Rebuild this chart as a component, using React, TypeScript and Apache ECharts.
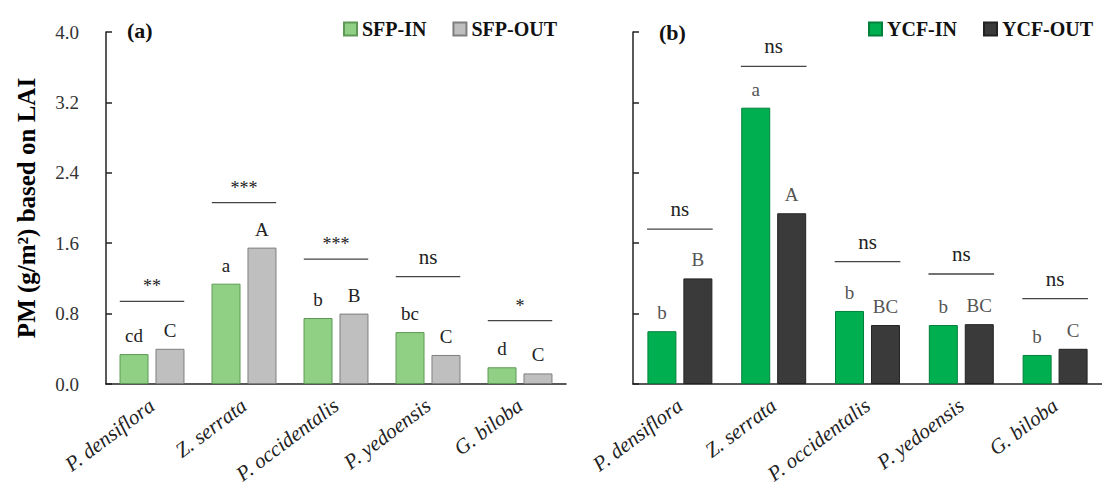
import React, { useEffect, useRef } from 'react';
import * as echarts from 'echarts';

const categories = ['P. densiflora', 'Z. serrata', 'P. occidentalis', 'P. yedoensis', 'G. biloba'];

const sfpIn = [0.34, 1.14, 0.75, 0.59, 0.19];
const sfpOut = [0.4, 1.55, 0.8, 0.33, 0.12];
const ycfIn = [0.6, 3.14, 0.83, 0.67, 0.33];
const ycfOut = [1.2, 1.94, 0.67, 0.68, 0.4];

const sfpInLetters = ['cd', 'a', 'b', 'bc', 'd'];
const sfpOutLetters = ['C', 'A', 'B', 'C', 'C'];
const ycfInLetters = ['b', 'a', 'b', 'b', 'b'];
const ycfOutLetters = ['B', 'A', 'BC', 'BC', 'C'];

const sfpSig = ['**', '***', '***', 'ns', '*'];
const sfpSigLevel = [0.94, 2.06, 1.42, 1.22, 0.72];
const ycfSig = ['ns', 'ns', 'ns', 'ns', 'ns'];
const ycfSigLevel = [1.76, 3.61, 1.39, 1.25, 0.97];

const FONT = "'Liberation Serif', 'Times New Roman', serif";

const sigSeries = (labels: string[], levels: number[], idx: number) => ({
  type: 'custom',
  xAxisIndex: idx,
  yAxisIndex: idx,
  silent: true,
  z: 10,
  data: levels.map((v, i) => [i, v]),
  renderItem: (params: any, api: any) => {
    const c = api.coord([api.value(0), api.value(1)]);
    const w = api.size([1, 0])[0] * 0.7;
    const txt = labels[params.dataIndex];
    const star = txt.indexOf('*') >= 0;
    return {
      type: 'group',
      children: [
        {
          type: 'line',
          shape: { x1: c[0] - w / 2, y1: c[1], x2: c[0] + w / 2, y2: c[1] },
          style: { stroke: '#444', lineWidth: 1.3 },
        },
        {
          type: 'text',
          x: c[0],
          y: c[1] - (star ? 15 : 20),
          style: {
            text: txt,
            align: 'center',
            verticalAlign: 'middle',
            fontFamily: FONT,
            fontSize: star ? 18 : 21,
            fill: '#222',
          },
        },
      ],
    };
  },
});

const barSeries = (
  name: string,
  data: number[],
  letters: string[],
  idx: number,
  fill: string,
  border: string,
  labelColor: string
) => ({
  type: 'bar',
  name,
  xAxisIndex: idx,
  yAxisIndex: idx,
  data,
  barWidth: 29,
  barGap: '24%',
  itemStyle: { color: fill, borderColor: border, borderWidth: 1 },
  label: {
    show: true,
    position: 'top',
    distance: 9,
    formatter: (p: any) => letters[p.dataIndex],
    fontFamily: FONT,
    fontSize: 19,
    color: labelColor,
  },
});

const xAxisCommon = (gi: number) => ({
  type: 'category',
  gridIndex: gi,
  data: categories,
  axisLine: { lineStyle: { color: '#222', width: 1.5 } },
  axisTick: { inside: true, length: 6, lineStyle: { color: '#222', width: 1.5 } },
  axisLabel: {
    rotate: 37,
    margin: 19,
    fontFamily: FONT,
    fontStyle: 'italic',
    fontSize: 21,
    color: '#222',
  },
});

const yAxisCommon = (gi: number, showLabels: boolean) => ({
  type: 'value',
  gridIndex: gi,
  min: 0,
  max: 4,
  interval: 0.8,
  axisLine: { show: true, lineStyle: { color: '#222', width: 1.5 } },
  axisTick: { show: true, inside: true, length: 6, lineStyle: { color: '#222', width: 1.5 } },
  splitLine: { show: false },
  axisLabel: {
    show: showLabels,
    margin: 27,
    fontFamily: FONT,
    fontSize: 19,
    color: '#333',
    formatter: (v: number) => v.toFixed(1),
  },
});

export default function App() {
  const ref = useRef<HTMLDivElement>(null);
  useEffect(() => {
    document.body.style.margin = '0';
    const chart = echarts.init(ref.current!, null, { renderer: 'svg' });
    chart.setOption({
      animation: false,
      backgroundColor: '#fff',
      grid: [
        { left: 106, top: 32, width: 460, height: 352 },
        { left: 633, top: 32, width: 469, height: 352 },
      ],
      xAxis: [xAxisCommon(0), xAxisCommon(1)],
      yAxis: [
        {
          ...yAxisCommon(0, true),
          name: 'PM (g/m²) based on LAI',
          nameLocation: 'middle',
          nameGap: 67,
          nameTextStyle: { fontFamily: FONT, fontSize: 25, fontWeight: 'bold', color: '#000' },
        },
        yAxisCommon(1, false),
      ],
      legend: [
        {
          left: 338,
          top: 14,
          itemWidth: 13,
          itemHeight: 13,
          itemGap: 26,
          icon: 'rect',
          data: ['SFP-IN', 'SFP-OUT'],
          textStyle: { fontFamily: FONT, fontSize: 20, fontWeight: 'bold', color: '#111' },
        },
        {
          left: 863,
          top: 14,
          itemWidth: 13,
          itemHeight: 13,
          itemGap: 26,
          icon: 'rect',
          data: ['YCF-IN', 'YCF-OUT'],
          textStyle: { fontFamily: FONT, fontSize: 20, fontWeight: 'bold', color: '#111' },
        },
      ],
      graphic: [
        {
          type: 'text',
          left: 127,
          top: 19,
          style: { text: '(a)', fontFamily: FONT, fontSize: 22, fontWeight: 'bold', fill: '#111' },
        },
        {
          type: 'text',
          left: 659,
          top: 21,
          style: { text: '(b)', fontFamily: FONT, fontSize: 22, fontWeight: 'bold', fill: '#111' },
        },
      ],
      series: [
        barSeries('SFP-IN', sfpIn, sfpInLetters, 0, '#8fd085', '#5e9a55', '#222'),
        barSeries('SFP-OUT', sfpOut, sfpOutLetters, 0, '#bfbfbf', '#7f7f7f', '#222'),
        barSeries('YCF-IN', ycfIn, ycfInLetters, 1, '#00b050', '#00803a', '#555'),
        barSeries('YCF-OUT', ycfOut, ycfOutLetters, 1, '#3a3a3a', '#222', '#555'),
        sigSeries(sfpSig, sfpSigLevel, 0),
        sigSeries(ycfSig, ycfSigLevel, 1),
      ],
    });
    return () => chart.dispose();
  }, []);
  return <div ref={ref} style={{ width: 1102, height: 490, position: 'absolute', left: 0, top: 0 }} />;
}
